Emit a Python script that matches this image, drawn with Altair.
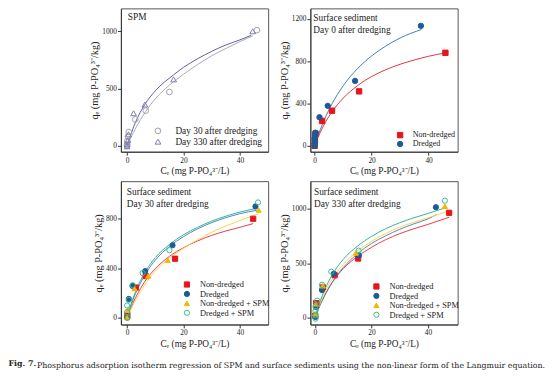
import altair as alt
import pandas as pd

FONT = "Liberation Serif"
CAPFONT = "DejaVu Serif"

# ---------------- Panel 1: SPM ----------------
spm_series = ["Day 30 after dredging", "Day 330 after dredging"]
spm_d30_x = [0, 0, 0.1, 0.3, 0.6, 2.9, 6.6, 15.0, 46.0]
spm_d30_y = [0, 12, 40, 80, 120, 230, 307, 470, 1010]
spm_d330_x = [0, 0, 0.25, 0.5, 2.3, 6.3, 16.5, 44.5]
spm_d330_y = [-5, 11, 48, 100, 284, 360, 580, 1000]
spm_d30_fit_x = [0, 1, 3, 6.6, 10, 15, 20, 25, 30, 35, 40, 44.5]
spm_d30_fit_y = [0, 55, 152, 300, 410, 530, 625, 710, 785, 850, 910, 960]
spm_d330_fit_x = [0, 1, 2, 4, 6.3, 10, 16.5, 20, 25, 30, 35, 40, 44]
spm_d330_fit_y = [0, 75, 145, 260, 362, 480, 620, 685, 760, 825, 880, 925, 965]

# ---------------- Panel 2: Day 0 ----------------
d0_series = ["Non-dredged", "Dredged"]
d0_nd_x = [0, 0.1, 0.3, 2.6, 6.1, 15.6, 45.9]
d0_nd_y = [0, 50, 115, 235, 332, 515, 880]
d0_dr_x = [0, 0, 0, 0, 0.1, 0.3, 1.7, 4.6, 14.2, 37.3]
d0_dr_y = [0, 22, 48, 70, 102, 124, 270, 378, 614, 1135]
d0_nd_fit_x = [0, 1, 2, 4, 6, 10, 15, 20, 25, 30, 35, 40, 45.8]
d0_nd_fit_y = [0, 68, 129, 234, 318, 450, 568, 655, 720, 771, 812, 847, 878]
d0_dr_fit_x = [0, 1, 2, 4, 6, 10, 15, 20, 25, 30, 37.5]
d0_dr_fit_y = [0, 81, 155, 283, 392, 567, 729, 850, 944, 1020, 1100]

# ---------------- Panels 3 & 4 ----------------
four_series = ["Non-dredged", "Dredged", "Non-dredged + SPM", "Dredged + SPM"]
fit_grid = [0, 1, 2, 4, 7, 10, 15, 20, 25, 30, 35, 40]

d30_nd_x = [0.1, 3.1, 6.6, 17.0, 44.7]
d30_nd_y = [20, 243, 336, 476, 799]
d30_dr_x = [0, 0.6, 1.9, 6.4, 16.1, 45.5]
d30_dr_y = [0, 151, 256, 376, 585, 899]
d30_ns_x = [0, 0.3, 2.6, 7.5, 14.4, 46.6]
d30_ns_y = [0, 60, 235, 336, 463, 870]
d30_ds_x = [0.2, 0, 0, 0.6, 2.0, 5.5, 15.0, 46.4]
d30_ds_y = [0, 45, 98, 143, 262, 360, 545, 931]
d30_nd_fit_y = [0, 60, 113, 205, 315, 395, 495, 565, 620, 665, 700, 730, 760]
d30_dr_fit_y = [0, 72, 138, 245, 370, 465, 575, 655, 718, 768, 808, 840, 868]
d30_ns_fit_y = [0, 50, 97, 180, 290, 375, 480, 560, 630, 690, 740, 785, 840]
d30_ds_fit_y = [0, 80, 150, 262, 390, 485, 590, 670, 730, 780, 820, 853, 885]
d30_fit_end = [44.7, 46.0, 46.6, 46.4]

d330_nd_x = [0.1, 0.45, 2.8, 7.0, 15.3, 47.5]
d330_nd_y = [20, 135, 279, 390, 543, 961]
d330_dr_x = [0.2, 0.45, 2.5, 6.7, 15.6, 42.8]
d330_dr_y = [9, 99, 255, 405, 570, 1012]
d330_ns_x = [0.1, 0.3, 2.8, 14.5, 46.0]
d330_ns_y = [39, 129, 294, 594, 1021]
d330_ds_x = [0.2, 0.2, 0.2, 0.2, 0.8, 2.5, 5.8, 15.5, 46.0]
d330_ds_y = [-6, 24, 63, 105, 158, 303, 423, 615, 1072]
d330_nd_fit_y = [0, 68, 128, 230, 355, 450, 560, 645, 715, 770, 815, 855, 920]
d330_dr_fit_y = [0, 68, 129, 235, 360, 460, 585, 680, 750, 810, 860, 905, 945]
d330_ns_fit_y = [0, 77, 145, 260, 390, 490, 610, 700, 770, 830, 875, 915, 975]
d330_ds_fit_y = [0, 88, 163, 288, 430, 535, 655, 745, 815, 870, 915, 955, 1005]
d330_fit_end = [47.5, 43.0, 47.0, 46.0]

XTITLE = "Cₑ (mg P-PO₄³⁻/L)"
YTITLE = "qₑ (mg P-PO₄³⁻/kg)"


def make_df(series_names, xs_list, ys_list):
    rows = []
    for s, xs, ys in zip(series_names, xs_list, ys_list):
        for xv, yv in zip(xs, ys):
            rows.append({"series": s, "x": xv, "y": yv})
    return pd.DataFrame(rows)


def tick_cond(step):
    return {"condition": {"test": f"datum.value % {step} === 0", "value": 3.5}, "value": 2}


def panel(width, height, xdom, ydom, yvals, ystep, series, pts, fits,
          shapes, fills, strokes, line_colors, size, leg, texts):
    pdf = make_df(series, [p[0] for p in pts], [p[1] for p in pts])
    fdf = make_df(series, [f[0] for f in fits], [f[1] for f in fits])

    xax = alt.Axis(values=[0, 10, 20, 30, 40], format="d",
                   labelExpr="datum.value % 20 === 0 ? datum.label : ''",
                   tickSize=tick_cond(20), title=XTITLE, grid=False, titleFontSize=9.5)
    yax = alt.Axis(values=yvals, format="d",
                   labelExpr=f"datum.value % {ystep} === 0 ? datum.label : ''",
                   tickSize=tick_cond(ystep), title=YTITLE, grid=False, titleFontSize=10.5)
    xs = alt.Scale(domain=xdom, nice=False, zero=False)
    ys = alt.Scale(domain=ydom, nice=False, zero=False)

    lines = alt.Chart(fdf).mark_line(strokeWidth=1, interpolate="monotone", clip=True).encode(
        x=alt.X("x:Q", scale=xs, axis=xax),
        y=alt.Y("y:Q", scale=ys, axis=yax),
        color=alt.Color("series:N", scale=alt.Scale(domain=series, range=line_colors), legend=None),
    )
    legend = alt.Legend(title=None, orient="none", legendX=leg["x"], legendY=leg["y"],
                        labelFont=FONT, labelFontSize=leg["fs"], labelColor="#222",
                        symbolSize=leg["ss"], symbolStrokeWidth=1, padding=0,
                        rowPadding=leg["rp"], labelOffset=leg["lo"], labelLimit=200)
    points = alt.Chart(pdf).mark_point(filled=True, size=size, strokeWidth=1, opacity=1, clip=True).encode(
        x=alt.X("x:Q", scale=xs),
        y=alt.Y("y:Q", scale=ys),
        shape=alt.Shape("series:N", scale=alt.Scale(domain=series, range=shapes), legend=legend),
        fill=alt.Fill("series:N", scale=alt.Scale(domain=series, range=fills), legend=legend),
        stroke=alt.Stroke("series:N", scale=alt.Scale(domain=series, range=strokes), legend=legend),
    )
    layers = [lines, points]
    for (t, tx, ty) in texts:
        layers.append(
            alt.Chart(alt.Data(values=[{}])).mark_text(
                align="left", baseline="middle", font=FONT, fontSize=9.5, color="#222"
            ).encode(x=alt.value(tx), y=alt.value(ty), text=alt.value(t))
        )
    return alt.layer(*layers).resolve_scale(color="independent").properties(
        width=width, height=height)


p1 = panel(150, 146, [-2.2, 50], [-52, 1200], [0, 250, 500, 750, 1000], 500, spm_series,
           [(spm_d30_x, spm_d30_y), (spm_d330_x, spm_d330_y)],
           [(spm_d30_fit_x, spm_d30_fit_y), (spm_d330_fit_x, spm_d330_fit_y)],
           ["circle", "triangle-up"], ["transparent", "transparent"], ["#a0a0aa", "#7d7db0"],
           ["#a8a8b4", "#5e5ea0"], 34,
           {"x": 33, "y": 120, "fs": 9.5, "ss": 34, "rp": 0, "lo": 13},
           [("SPM", 7, 9)])

p2 = panel(150, 146, [-1.5, 50.2], [-56, 1300], list(range(0, 1201, 100)), 200, d0_series,
           [(d0_nd_x, d0_nd_y), (d0_dr_x, d0_dr_y)],
           [(d0_nd_fit_x, d0_nd_fit_y), (d0_dr_fit_x, d0_dr_fit_y)],
           ["square", "circle"], ["#e8141c", "#1d5a96"], ["#e8141c", "#1d5a96"],
           ["#e8323a", "#3a82c0"], 30,
           {"x": 87.3, "y": 125, "fs": 8.2, "ss": 30, "rp": -1.5, "lo": 8.7},
           [("Surface sediment", 3, 10), ("Day 0 after dredging", 3, 22.5)])

four_shapes = ["square", "circle", "triangle-up", "circle"]
four_fills = ["#e8141c", "#1d5a96", "#f5b800", "transparent"]
four_strokes = ["#e8141c", "#1d5a96", "#f5b800", "#3cba8a"]
four_lines = ["#e43c4a", "#4a88c0", "#ffd24a", "#2fb59b"]


def fits_for(ys_list, ends):
    out = []
    for ys, e in zip(ys_list, ends):
        out.append((fit_grid + [e], ys))
    return out


p3 = panel(150, 146, [-2.2, 50], [-56, 1103], list(range(0, 1001, 100)), 200, four_series,
           [(d30_nd_x, d30_nd_y), (d30_dr_x, d30_dr_y), (d30_ns_x, d30_ns_y), (d30_ds_x, d30_ds_y)],
           fits_for([d30_nd_fit_y, d30_dr_fit_y, d30_ns_fit_y, d30_ds_fit_y], d30_fit_end),
           four_shapes, four_fills, four_strokes, four_lines, 28,
           {"x": 63, "y": 101, "fs": 8.5, "ss": 28, "rp": -0.4, "lo": 9},
           [("Surface sediment", 6, 11), ("Day 30 after dredging", 6, 23.3)])

p4 = panel(150, 146, [-1.6, 50.5], [-60, 1250], [0, 250, 500, 750, 1000], 500, four_series,
           [(d330_nd_x, d330_nd_y), (d330_dr_x, d330_dr_y), (d330_ns_x, d330_ns_y), (d330_ds_x, d330_ds_y)],
           fits_for([d330_nd_fit_y, d330_dr_fit_y, d330_ns_fit_y, d330_ds_fit_y], d330_fit_end),
           four_shapes, four_fills, four_strokes, four_lines, 28,
           {"x": 63, "y": 103, "fs": 8.5, "ss": 28, "rp": -0.4, "lo": 9},
           [("Surface sediment", 3.7, 11), ("Day 330 after dredging", 3.7, 23)])

grid = alt.concat(p1, p2, p3, p4, columns=2, spacing={"row": 30, "column": 43},
                  bounds="flush").resolve_scale(
    x="independent", y="independent", color="independent", shape="independent",
    fill="independent", stroke="independent").resolve_legend(
    shape="independent", fill="independent", stroke="independent").properties(
    title=alt.TitleParams(
        "Phosphorus adsorption isotherm regression of SPM and surface sediments using the non-linear form of the Langmuir equation.",
        orient="bottom", anchor="start", dx=-53.5, font=CAPFONT, fontSize=8, fontWeight="normal",
        color="#222", offset=14))

chart = alt.vconcat(grid).properties(
    title=alt.TitleParams("Fig. 7.", orient="bottom", anchor="start", dx=-29, dy=-10,
                          font=CAPFONT, fontSize=8, fontWeight="bold", color="#222", offset=0),
    padding={"left": 0, "top": -4, "right": 0, "bottom": 0},
).configure_view(stroke="#555", strokeWidth=1).configure_axis(
    labelFont=FONT, labelFontSize=7.5, labelColor="#222", titleFont=FONT, titleFontSize=9,
    titleFontWeight="normal", titleColor="#222", domainColor="#333", tickColor="#333",
    labelPadding=1, titlePadding=2
)

chart.save("out.html", embed_options={"renderer": "svg", "actions": False})
